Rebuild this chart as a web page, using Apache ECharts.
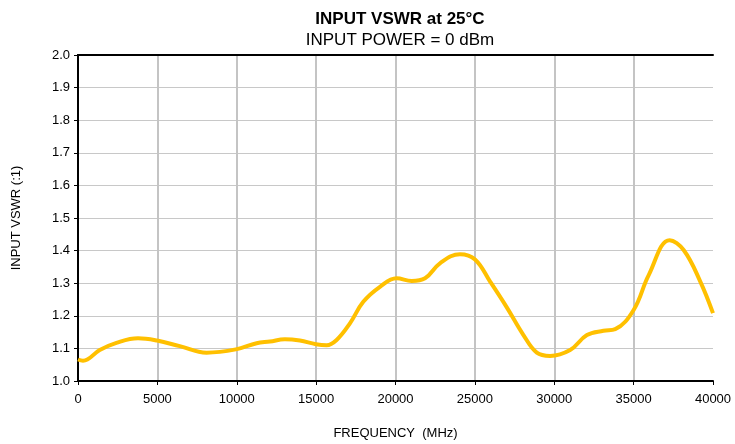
<!DOCTYPE html>
<html>
<head>
<meta charset="utf-8">
<script src="https://cdn.jsdelivr.net/npm/echarts@6/dist/echarts.min.js"></script>
<style>html,body{margin:0;padding:0;background:#fff}#c{width:735px;height:444px}</style>
</head>
<body>
<div id="c"></div>
<script>
const freqMHz = [0, 315, 1370, 2420, 3780, 4980, 6410, 8100, 9940, 11250, 12090, 13030, 13980, 14990, 15660, 16290, 17130, 17970, 19020, 20070, 21020, 21860, 22800, 24060, 25010, 25960, 27010, 28060, 28900, 29740, 31000, 32060, 33100, 33840, 35000, 35950, 37270, 38150, 39200, 40000];
const vswr = [1.066, 1.062, 1.095, 1.117, 1.131, 1.124, 1.107, 1.087, 1.097, 1.116, 1.121, 1.128, 1.124, 1.113, 1.110, 1.126, 1.177, 1.243, 1.289, 1.315, 1.307, 1.315, 1.361, 1.389, 1.373, 1.305, 1.226, 1.141, 1.087, 1.077, 1.095, 1.141, 1.154, 1.159, 1.218, 1.325, 1.432, 1.402, 1.305, 1.208];
const titleText = 'INPUT VSWR at 25°C';
const subtitleText = 'INPUT POWER = 0 dBm';
const xName = 'FREQUENCY  (MHz)';
const yName = 'INPUT VSWR (:1)';

const chart = echarts.init(document.getElementById('c'));
const F = 'Liberation Sans, Arial, sans-serif';
const frameAxis = {
  show: true, min: 0, max: 1, type: 'value',
  axisLine: {show: true, lineStyle: {color: '#000', width: 2}},
  axisTick: {show: false}, axisLabel: {show: false}, splitLine: {show: false}
};
chart.setOption({
  animation: false,
  title: {
    text: titleText, subtext: subtitleText, left: 395, textAlign: 'center', top: 6, itemGap: 4,
    textStyle: {fontFamily: F, fontSize: 17, fontWeight: 'bold', color: '#000'},
    subtextStyle: {fontFamily: F, fontSize: 17, color: '#000'}
  },
  grid: {left: 78, right: 22, top: 55, bottom: 63, outerBoundsMode: 'none', containLabel: false},
  xAxis: [{
    type: 'value', min: 0, max: 40000, interval: 5000,
    name: xName, nameLocation: 'middle', nameGap: 46,
    nameTextStyle: {fontFamily: F, fontSize: 13, color: '#000'},
    axisLine: {show: true, lineStyle: {color: '#000', width: 2}},
    axisTick: {show: true, length: 4, lineStyle: {color: '#000'}},
    axisLabel: {fontFamily: F, fontSize: 13, color: '#000', margin: 12, formatter: v => String(v)},
    splitLine: {show: true, showMinLine: false, showMaxLine: false, lineStyle: {color: '#c4c4c4', width: 2}}
  }, Object.assign({position: 'top'}, frameAxis)],
  yAxis: [{
    type: 'value', min: 1.0, max: 2.0, interval: 0.1,
    name: yName, nameLocation: 'middle', nameGap: 55,
    nameTextStyle: {fontFamily: F, fontSize: 13, color: '#000'},
    axisLine: {show: true, lineStyle: {color: '#000', width: 2}},
    axisTick: {show: true, length: 4, lineStyle: {color: '#000'}},
    axisLabel: {fontFamily: F, fontSize: 13, color: '#000', margin: 8, formatter: v => v.toFixed(1)},
    splitLine: {show: true, showMinLine: false, showMaxLine: false, lineStyle: {color: '#c8c8c8', width: 1}}
  }, Object.assign({position: 'right'}, frameAxis)],
  series: [{
    type: 'line', data: freqMHz.map((f, i) => [f, vswr[i]]), smooth: 0.4, showSymbol: false,
    lineStyle: {color: '#FFC000', width: 4}, clip: false, z: 2
  }]
});
</script>
</body>
</html>
